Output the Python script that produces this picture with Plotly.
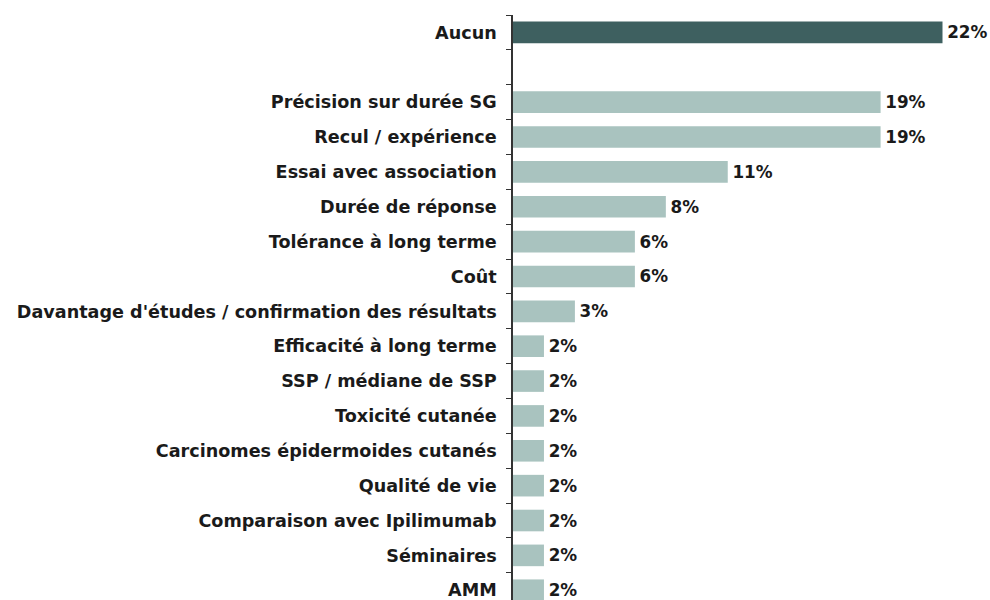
import plotly.graph_objects as go

categories = [
    "Aucun",
    "Précision sur durée SG",
    "Recul / expérience",
    "Essai avec association",
    "Durée de réponse",
    "Tolérance à long terme",
    "Coût",
    "Davantage d'études / confirmation des résultats",
    "Efficacité à long terme",
    "SSP / médiane de SSP",
    "Toxicité cutanée",
    "Carcinomes épidermoides cutanés",
    "Qualité de vie",
    "Comparaison avec Ipilimumab",
    "Séminaires",
    "AMM",
]
values = [22.2, 19.0, 19.0, 11.1, 7.9, 6.3, 6.3, 3.2, 1.6, 1.6, 1.6, 1.6, 1.6, 1.6, 1.6, 1.6]
gap_label = " "

dark = "#3e6060"
light = "#a9c3bf"
colors = [dark] + [light] * (len(categories) - 1)

order = [categories[0], gap_label] + categories[1:]

font_family = "DejaVu Sans"

fig = go.Figure(
    go.Bar(
        x=values,
        y=categories,
        orientation="h",
        marker=dict(color=colors, line=dict(width=0)),
        texttemplate="\u200a%{x:.0f}%",
        textposition="outside",
        textfont=dict(family=font_family, size=16.8, color="#1a1a1a", weight="bold"),
        cliponaxis=False,
        constraintext="none",
        hoverinfo="skip",
    )
)

fig.update_layout(
    width=990,
    height=600,
    margin=dict(l=513, r=3, t=15, b=0, autoexpand=False),
    paper_bgcolor="white",
    plot_bgcolor="white",
    bargap=0.38,
    showlegend=False,
    xaxis=dict(range=[0, 24.5], visible=False, fixedrange=True),
    yaxis=dict(
        type="category",
        categoryorder="array",
        categoryarray=order,
        range=[16.28, -0.5],
        automargin=False,
        fixedrange=True,
        showline=True,
        linecolor="#333333",
        linewidth=1.5,
        ticks="outside",
        tickson="boundaries",
        ticklen=5,
        tickcolor="#333333",
        tickwidth=1.2,
        ticklabelstandoff=11,
        showgrid=False,
        zeroline=False,
        tickfont=dict(family=font_family, size=17.6, color="#1a1a1a", weight="bold"),
    ),
)

fig.write_html(
    "out.html",
    config={"displayModeBar": False},
    post_script="document.body.style.margin='0';document.body.style.overflow='hidden';",
)
